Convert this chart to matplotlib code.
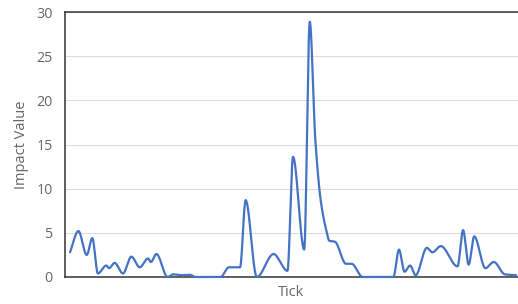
"""Impact value per tick — smooth line chart, no x tick labels."""
import numpy as np
import matplotlib
matplotlib.use("Agg")
import matplotlib.pyplot as plt  # noqa: E402

plt.rcParams["font.family"] = ["Open Sans", "DejaVu Sans"]

# values (tick, impact value)
ticks = [0, 3, 6, 8, 10, 13, 14, 16, 19, 22, 25, 28, 29, 31, 35, 37, 40, 43,
         45, 54, 57, 61, 63, 67, 73, 78, 80, 84, 86, 88, 90, 92, 93, 95, 99,
         101, 105, 116, 118, 120, 122, 124, 128, 130, 133, 139, 141, 143,
         145, 149, 152, 156, 160]
impact = [2.8, 5.2, 2.5, 4.4, 0.4, 1.3, 1.0, 1.6, 0.4, 2.3, 1.1, 2.1, 1.7,
          2.6, 0.0, 0.3, 0.2, 0.25, 0.0, 0.0, 1.1, 1.1, 8.7, 0.0, 2.6, 0.7,
          13.6, 3.1, 28.9, 15.5, 8.5, 5.2, 4.1, 4.0, 1.5, 1.5, 0.0, 0.0, 3.1,
          0.6, 1.3, 0.2, 3.3, 2.8, 3.5, 1.2, 5.3, 1.4, 4.6, 1.0, 1.7, 0.3, 0.2]
y_ticks = [0, 5, 10, 15, 20, 25, 30]

LINE = "#4472C4"
TEXT = "#666666"


def smooth(x, y, n=2000):
    """Monotone cubic (Fritsch-Carlson) curve through the points, like a spline line."""
    x = np.asarray(x, float)
    y = np.asarray(y, float)
    h = np.diff(x)
    d = np.diff(y) / h
    m = np.zeros_like(y)
    for i in range(1, len(y) - 1):
        if d[i - 1] * d[i] > 0:
            w1 = 2 * h[i] + h[i - 1]
            w2 = h[i] + 2 * h[i - 1]
            m[i] = (w1 + w2) / (w1 / d[i - 1] + w2 / d[i])
    m[0], m[-1] = d[0], d[-1]
    xs = np.linspace(x[0], x[-1], n)
    k = np.clip(np.searchsorted(x, xs) - 1, 0, len(h) - 1)
    t = (xs - x[k]) / h[k]
    h00 = 2 * t**3 - 3 * t**2 + 1
    h10 = t**3 - 2 * t**2 + t
    h01 = -2 * t**3 + 3 * t**2
    h11 = t**3 - t**2
    ys = h00 * y[k] + h10 * h[k] * m[k] + h01 * y[k + 1] + h11 * h[k] * m[k + 1]
    return xs, ys


fig = plt.figure(figsize=(5.18, 3.04), dpi=100)
ax = fig.add_axes([65 / 518, 27 / 304, 453 / 518, 265 / 304])

xs, ys = smooth(ticks, impact)
ax.plot(xs, ys, color=LINE, lw=1.6, solid_capstyle="round", zorder=3,
        clip_on=False)

ax.set_xlim(-1.8, 160.7)
ax.set_ylim(0, 30)
ax.set_yticks(y_ticks)
ax.set_xticks([])
ax.grid(axis="y", color="#dcdcdc", lw=0.8)
ax.set_axisbelow(True)

for side in ("left", "bottom", "top"):
    ax.spines[side].set_color("#333333")
    ax.spines[side].set_linewidth(1.1)
ax.spines["right"].set_visible(False)

ax.tick_params(axis="y", length=0, pad=9, labelsize=10.3, labelcolor=TEXT)
ax.set_ylabel("Impact Value", fontsize=10.5, color=TEXT, labelpad=5)
ax.set_xlabel("Tick", fontsize=10.5, color=TEXT, labelpad=6)

fig.savefig("out.png", dpi=100)
